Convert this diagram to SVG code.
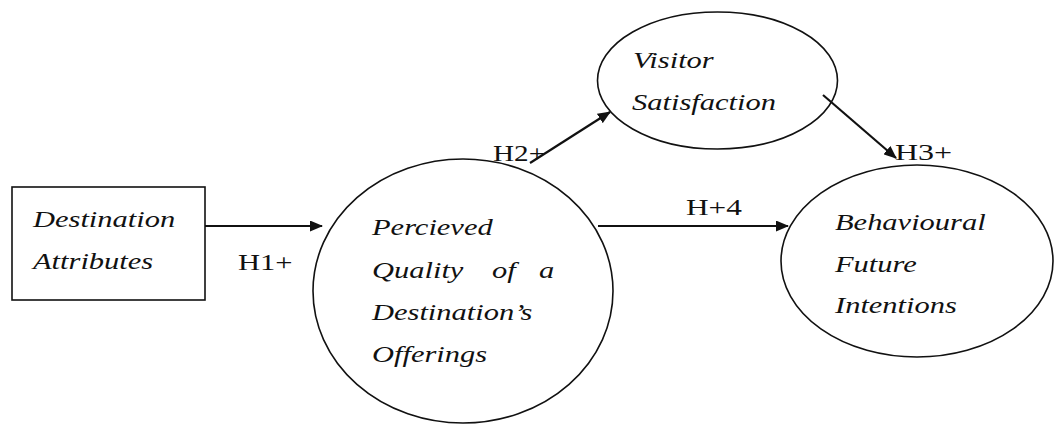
<svg xmlns="http://www.w3.org/2000/svg" width="1054" height="424" viewBox="0 0 1054 424">
<style>
.t{font-family:"Liberation Serif","Times New Roman",serif;font-size:24px;fill:#111}
.i{font-style:italic}
.n{fill:none;stroke:#111;stroke-width:1.6}
.c{stroke:#111;stroke-width:2.2;fill:none}
</style>
<defs>
<marker id="ah" viewBox="0 0 12 10" refX="11" refY="5" markerWidth="6" markerHeight="5" markerUnits="strokeWidth" orient="auto">
<path d="M0,0 L12,5 L0,10 Z" fill="#111"/>
</marker>
</defs>
<rect width="1054" height="424" fill="#fff"/>
<g id="connectors">
<line class="c" x1="205" y1="226" x2="322" y2="226" marker-end="url(#ah)"/>
<line class="c" x1="530" y1="163" x2="610" y2="112" marker-end="url(#ah)"/>
<line class="c" x1="823" y1="95" x2="896" y2="158" marker-end="url(#ah)"/>
<line class="c" x1="598" y1="226" x2="788" y2="226" marker-end="url(#ah)"/>
<text class="t" transform="translate(238,270) scale(1.27,1)" textLength="43" lengthAdjust="spacingAndGlyphs">H1+</text>
<text class="t" transform="translate(493,161) scale(1.27,1)" textLength="41" lengthAdjust="spacingAndGlyphs">H2+</text>
<text class="t" transform="translate(895,160) scale(1.27,1)" textLength="45" lengthAdjust="spacingAndGlyphs">H3+</text>
<text class="t" transform="translate(686,215) scale(1.27,1)" textLength="44" lengthAdjust="spacingAndGlyphs">H+4</text>
</g>
<g id="destination-attributes">
<rect class="n" x="12" y="187" width="193" height="113"/>
<text class="t i" transform="translate(33,227) scale(1.27,1)">Destination</text>
<text class="t i" transform="translate(33,269) scale(1.27,1)">Attributes</text>
</g>
<g id="perceived-quality">
<ellipse class="n" cx="463" cy="291" rx="150" ry="132"/>
<text class="t i" transform="translate(372,235) scale(1.27,1)">Percieved</text>
<text class="t i" transform="translate(372,278) scale(1.27,1)">Quality</text>
<text class="t i" transform="translate(492,278) scale(1.27,1)">of</text>
<text class="t i" transform="translate(539,278) scale(1.27,1)">a</text>
<text class="t i" transform="translate(372,320) scale(1.27,1)">Destination’s</text>
<text class="t i" transform="translate(372,362) scale(1.27,1)">Offerings</text>
</g>
<g id="visitor-satisfaction">
<ellipse class="n" cx="717.5" cy="80.5" rx="120" ry="68.5"/>
<text class="t i" transform="translate(633,68) scale(1.27,1)">Visitor</text>
<text class="t i" transform="translate(632,110) scale(1.27,1)">Satisfaction</text>
</g>
<g id="behavioural-intentions">
<ellipse class="n" cx="917" cy="261" rx="136" ry="96"/>
<text class="t i" transform="translate(835,230) scale(1.27,1)">Behavioural</text>
<text class="t i" transform="translate(835,272) scale(1.27,1)">Future</text>
<text class="t i" transform="translate(835,313) scale(1.27,1)">Intentions</text>
</g>
</svg>
